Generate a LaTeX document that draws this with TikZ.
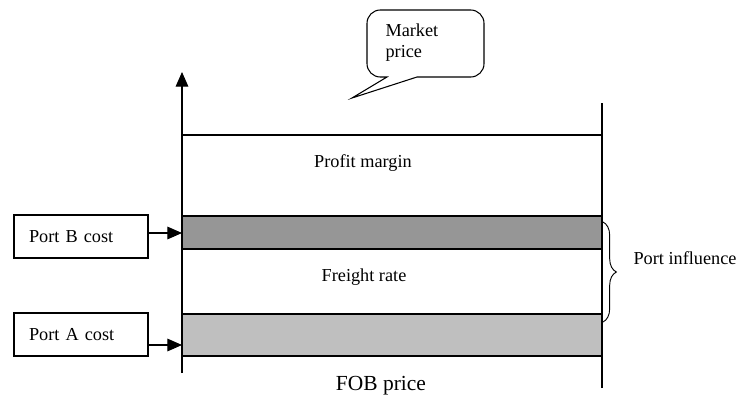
\documentclass[tikz,border=0pt]{standalone}
\usepackage{fontspec}
\setmainfont{Liberation Serif}
\usetikzlibrary{arrows.meta,decorations.pathreplacing}

\tikzset{
  costbox/.style={draw, line width=0.8pt, minimum width=100.5pt, minimum height=32.25pt,
    text width=78pt, align=left, inner xsep=11.25pt, inner ysep=0pt},
  bar/.style={draw, line width=1.1pt},
  lbl/.style={inner sep=0pt, font=\fontsize{13.7}{15.75}\selectfont},
  tip/.style={-{Triangle[length=11pt,width=9.5pt]}}
}

\begin{document}
\begin{tikzpicture}[x=0.75pt, y=-0.75pt, line width=0.8pt, font=\fontsize{13.7}{15.75}\selectfont]
            \useasboundingbox (0,0) rectangle (738,396);

            % Define some coordinates
            \coordinate (axisLow) at (182,373);
            \coordinate (axisTop) at (182,72);
            \coordinate (rightLow) at (602,388);
            \coordinate (rightTop) at (602,103);
            \coordinate (bIn) at (182,233);
            \coordinate (aIn) at (182,345);

            % Draw the two price bars
            \draw[bar, fill=black!41] (182,216) rectangle (602,249);
            \draw[bar, fill=black!25] (182,314) rectangle (602,356);

            % Draw the axis and the frame lines
            \draw[tip] (axisLow) -- (axisTop);
            \draw (rightLow) -- (rightTop);
            \draw (182,135) -- (602,135);

            % Label the bands
            \node[lbl] (profit) at (363,163) {Profit margin};
            \node[lbl] (freight) at (364,277) {Freight rate};
            \node[lbl, font=\fontsize{16.1}{18}\selectfont] (fob) at (381,386) {FOB price};

            % Port cost boxes
            \node[costbox] (portB) at (81,236.5) {Port B cost};
            \node[costbox] (portA) at (81,334.5) {Port A cost};
            \draw[tip] (portB.east |- bIn) -- (bIn);
            \draw[tip] (portA.east |- aIn) -- (aIn);

            % Draw the brace
            \draw[line width=0.7pt, decorate, decoration={brace, amplitude=10pt}] (603,222) -- (603,322);
            \node[lbl, anchor=west] (influence) at (633,258) {Port influence};

            % Draw the callout
            \draw (352,98) -- (387,77) [rounded corners=10pt] -- (367,77) -- (367,10) -- (484,10) -- (484,77) [sharp corners] -- (417,77) -- cycle;
            \node[lbl, anchor=west, align=left] (market) at (385,42.5) {Market\\price};
        \end{tikzpicture}
\end{document}
